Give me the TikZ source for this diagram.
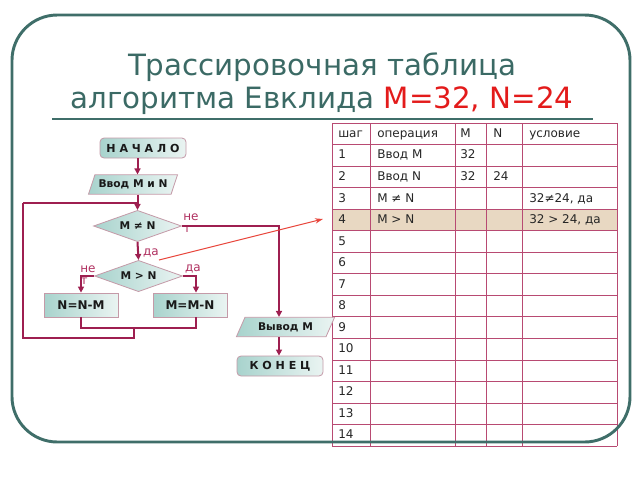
\documentclass[tikz,border=0pt]{standalone}
\usepackage{fontspec}
\setmainfont{DejaVu Sans}
\usepackage{tikz}
\usetikzlibrary{arrows.meta,shapes.geometric}

\definecolor{frameteal}{HTML}{3F6E69}
\definecolor{titleteal}{HTML}{3B6A65}
\definecolor{titlered}{HTML}{E31B1B}
\definecolor{gridred}{HTML}{B84A72}
\definecolor{rowtan}{HTML}{E8D8C2}
\definecolor{flowred}{HTML}{9E1F50}
\definecolor{boxedge}{HTML}{C49AA8}
\definecolor{boxdark}{HTML}{A8D3CD}
\definecolor{boxlight}{HTML}{EAF4F2}
\definecolor{labred}{HTML}{B03060}
\definecolor{pointer}{HTML}{E8483E}

\begin{document}
\begin{tikzpicture}[x=0.75pt, y=-0.75pt,
  cell/.style={anchor=mid west, inner sep=0pt, text=black!85, font=\fontsize{9}{10}\selectfont},
  grid/.style={draw=gridred, line width=0.5pt},
  fbox/.style={draw=boxedge, line width=0.6pt, left color=boxdark, right color=boxlight,
    inner sep=0pt, text=black!90, font=\bfseries\fontsize{8}{9}\selectfont},
  term/.style={fbox, rectangle, rounded corners=3pt, minimum width=64.5pt, minimum height=15pt,
    font=\bfseries\fontsize{8.3}{9}\selectfont},
  proc/.style={fbox, rectangle, minimum height=18pt, font=\bfseries\fontsize{9}{10}\selectfont},
  io/.style={fbox, trapezium, trapezium left angle=58, trapezium right angle=122,
    trapezium stretches=true, minimum height=14.5pt},
  cond/.style={fbox, diamond, aspect=2.9, minimum width=66pt, minimum height=23.5pt},
  line/.style={draw=flowred, line width=1.5pt},
  flow/.style={line, -{Triangle[length=4.5pt,width=4.5pt]}},
  lab/.style={text=labred, inner sep=0pt, font=\fontsize{9}{10}\selectfont}]
\useasboundingbox (0,0) rectangle (640,480);

% Title
\node[anchor=base, text=titleteal, font=\fontsize{22}{26}\selectfont] (t1) at (322,75)
  {Трассировочная таблица};
\node[anchor=base, text=titleteal, font=\fontsize{22}{26}\selectfont] (t2) at (322,108)
  {алгоритма Евклида \textcolor{titlered}{M=32, N=24}};
\draw[frameteal, line width=2.2pt] (52,119) -- (593,119);

% Trace table
\fill[rowtan] (332,209.1) rectangle (617,230.7);
\foreach \k in {0,...,15}
  \draw[grid] (332,{123+21.53*\k}) -- (617,{123+21.53*\k});
\foreach \x in {332,370,455,486,522,617}
  \draw[grid] (\x,123) -- (\x,446);
\node[cell] (hs) at (338,133.8) {шаг};
\node[cell] (ho) at (377,133.8) {операция};
\node[cell] (hm) at (460,133.8) {M};
\node[cell] (hn) at (493,133.8) {N};
\node[cell] (hc) at (529,133.8) {условие};
\foreach \i in {1,...,14}
  \node[cell] (s\i) at (338,{123+21.53*(\i+0.5)}) {\i};
\node[cell] (o1) at (377,155.3) {Ввод M};
\node[cell] (m1) at (460,155.3) {32};
\node[cell] (o2) at (377,176.8) {Ввод N};
\node[cell] (m2) at (460,176.8) {32};
\node[cell] (n2) at (493,176.8) {24};
\node[cell] (o3) at (377,198.4) {M ≠ N};
\node[cell] (c3) at (529,198.4) {32≠24, да};
\node[cell] (o4) at (377,219.9) {M > N};
\node[cell] (c4) at (529,219.9) {32 > 24, да};

% Frame
\draw[frameteal, line width=2.2pt, rounded corners=34pt] (12,15) rectangle (630,442);

% Flowchart
\node[term] (start) at (143,148) {Н А Ч А Л О};
\node[io, minimum width=67pt] (in1) at (133,184.5) {Ввод M и N};
\node[cond] (dec1) at (137.5,226) {M ≠ N};
\node[cond] (dec2) at (138.5,276) {M > N};
\node[proc, minimum width=55.5pt] (box1) at (81,305) {N=N-M};
\node[proc, minimum width=55.5pt] (box2) at (190,305) {M=M-N};
\node[io, minimum width=74pt] (out) at (285.5,327) {Вывод M};
\node[term] (end) at (280,366) {К О Н Е Ц};

\coordinate (xm) at (137.5,0);
\coordinate (xb2) at (196,0);
\coordinate (xr) at (279,0);
\coordinate (mg) at (134,328);
\coordinate (lp1) at (134,338);
\coordinate (lp2) at (23,338);
\coordinate (lp3) at (23,203);

% Labels
\node[lab] (no1) at (191,217) {не};
\node[lab] (no1b) at (187,229) {т};
\node[lab] (yes1) at (151,253) {да};
\node[lab] (no2) at (88,269) {не};
\node[lab] (no2b) at (84,281) {т};
\node[lab] (yes2) at (193,269) {да};

% Connectors
\draw[flow] (start.south -| xm) -- (in1.north -| xm);
\draw[flow] (in1.south -| xm) -- (dec1.north);
\draw[line] (lp3) -- (lp3 -| xm);
\draw[flow] (dec1.south) -- (dec2.north);
\draw[flow] (dec2.west) -| (box1.north);
\draw[flow] (dec2.east) -| (box2.north -| xb2);
\draw[line] (box1.south) |- (mg -| xb2) -- (box2.south -| xb2);
\draw[line] (mg) -- (lp1) -- (lp2) -- (lp3);
\draw[flow] (dec1.east) -| (out.north -| xr);
\draw[flow] (out.south -| xr) -- (end.north -| xr);

% Pointer to the current row
\coordinate (pa) at (159,260);
\coordinate (pb) at (323,219);
\draw[pointer, line width=0.8pt, -{Stealth[length=6pt,width=4pt]}] (pa) -- (pb);
\end{tikzpicture}
\end{document}
